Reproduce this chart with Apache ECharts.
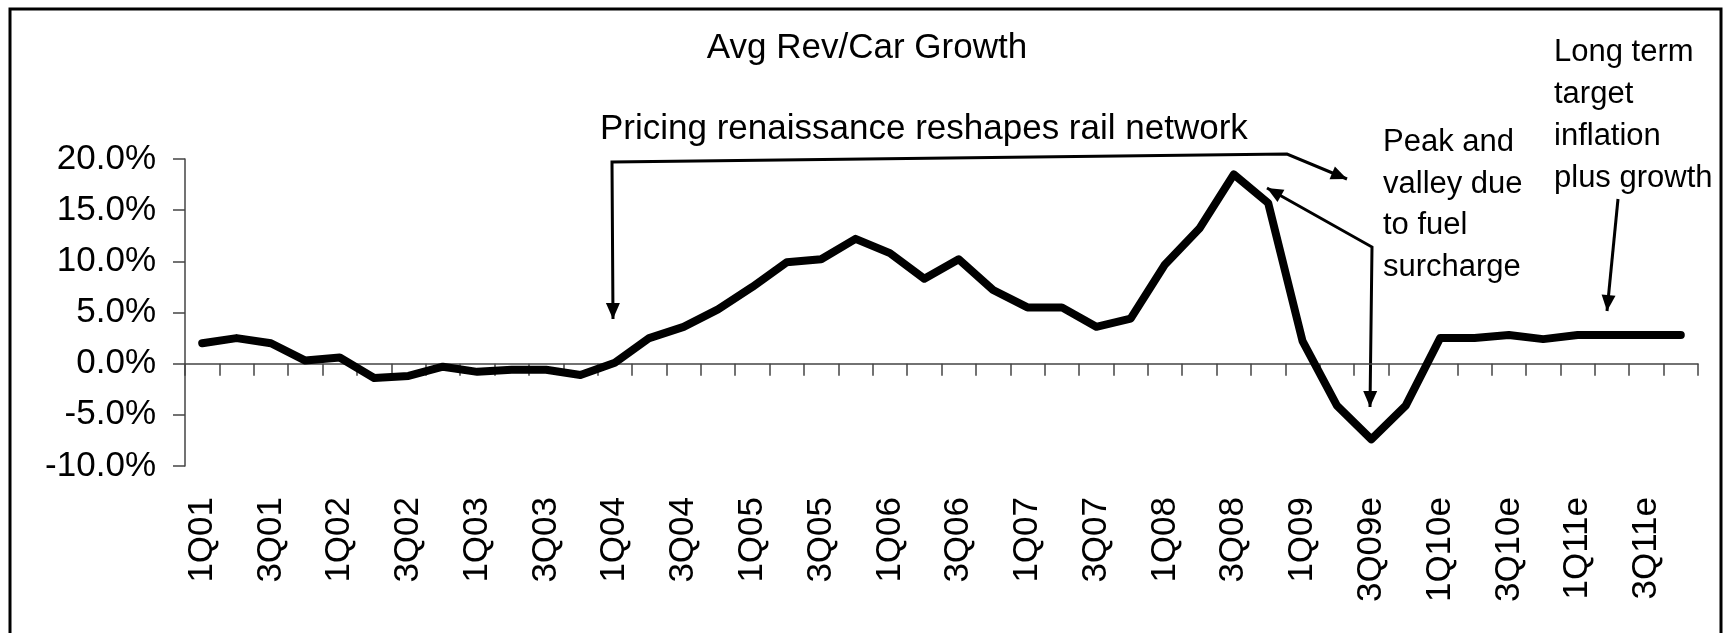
<!DOCTYPE html>
<html>
<head>
<meta charset="utf-8">
<script src="https://cdn.jsdelivr.net/npm/echarts@6/dist/echarts.min.js"></script>
<style>
html, body { margin: 0; padding: 0; background: #fff; }
#chart { width: 1726px; height: 633px; }
</style>
</head>
<body>
<div id="chart"></div>
<script>
const quarters = [
    '1Q01', '2Q01', '3Q01', '4Q01', '1Q02', '2Q02', '3Q02', '4Q02',
    '1Q03', '2Q03', '3Q03', '4Q03', '1Q04', '2Q04', '3Q04', '4Q04',
    '1Q05', '2Q05', '3Q05', '4Q05', '1Q06', '2Q06', '3Q06', '4Q06',
    '1Q07', '2Q07', '3Q07', '4Q07', '1Q08', '2Q08', '3Q08', '4Q08',
    '1Q09', '2Q09', '3Q09e', '4Q09e', '1Q10e', '2Q10e', '3Q10e', '4Q10e',
    '1Q11e', '2Q11e', '3Q11e', '4Q11e'
];
// avg revenue per car, yoy growth in %
const revPerCarGrowth = [
    2.0, 2.5, 2.0, 0.3, 0.6, -1.4, -1.2, -0.3,
    -0.8, -0.6, -0.6, -1.1, 0.1, 2.5, 3.6, 5.3,
    7.5, 9.9, 10.2, 12.2, 10.8, 8.3, 10.2, 7.2,
    5.5, 5.5, 3.6, 4.4, 9.7, 13.2, 18.5, 15.7,
    2.2, -4.1, -7.4, -4.1, 2.5, 2.5, 2.8, 2.4,
    2.8, 2.8, 2.8, 2.8
];
const yMin = -10;
const yMax = 20;
const yStep = 5;

const FONT = '"Liberation Sans", Arial, sans-serif';
const AXIS_COLOR = '#444';

// small filled triangle at the tip of a segment
function arrowHead(tip, from) {
    const dx = tip[0] - from[0], dy = tip[1] - from[1];
    const len = Math.hypot(dx, dy);
    const ux = dx / len, uy = dy / len;
    const L = 16, W = 7;
    const bx = tip[0] - ux * L, by = tip[1] - uy * L;
    return {
        type: 'polygon',
        shape: { points: [tip, [bx - uy * W, by + ux * W], [bx + uy * W, by - ux * W]] },
        style: { fill: '#000' }
    };
}

function arrow(points, headStart, headEnd) {
    const items = [{
        type: 'polyline',
        shape: { points: points },
        style: { stroke: '#000', lineWidth: 3, fill: null }
    }];
    if (headStart) items.push(arrowHead(points[0], points[1]));
    if (headEnd) items.push(arrowHead(points[points.length - 1], points[points.length - 2]));
    return items;
}

function note(text, x, y, size, lineHeight) {
    return {
        type: 'text',
        x: x,
        y: y,
        style: {
            text: text,
            font: size + 'px ' + FONT,
            fill: '#000',
            lineHeight: lineHeight,
            textVerticalAlign: 'top'
        }
    };
}

const chart = echarts.init(document.getElementById('chart'));

const option = {
    animation: false,
    backgroundColor: '#fff',
    title: {
        text: 'Avg Rev/Car Growth',
        left: 867,
        top: 31,
        textAlign: 'center',
        padding: 0,
        textStyle: { fontFamily: FONT, fontSize: 35, fontWeight: 'normal', color: '#000' }
    },
    grid: { left: 185, right: 28, top: 159, bottom: 167 },
    xAxis: [
        {
            type: 'category',
            data: quarters,
            boundaryGap: true,
            axisLine: { onZero: true, lineStyle: { color: AXIS_COLOR, width: 1.5 } },
            axisTick: { show: true, interval: 0, length: 12, lineStyle: { color: AXIS_COLOR, width: 1.5 } },
            axisLabel: { show: false },
            splitLine: { show: false }
        },
        {
            type: 'category',
            data: quarters,
            position: 'bottom',
            boundaryGap: true,
            axisLine: { show: false, onZero: false },
            axisTick: { show: false },
            axisLabel: {
                interval: 1,
                rotate: 90,
                margin: 31,
                fontFamily: FONT,
                fontSize: 35,
                color: '#000'
            },
            splitLine: { show: false }
        }
    ],
    yAxis: {
        type: 'value',
        min: yMin,
        max: yMax,
        interval: yStep,
        axisLine: { show: true, lineStyle: { color: AXIS_COLOR, width: 1.5 } },
        axisTick: { show: true, length: 12, lineStyle: { color: AXIS_COLOR, width: 1.5 } },
        axisLabel: {
            margin: 29,
            fontFamily: FONT,
            fontSize: 35,
            color: '#000',
            formatter: (v) => v.toFixed(1) + '%'
        },
        splitLine: { show: false }
    },
    series: [{
        type: 'line',
        name: 'Avg Rev/Car Growth',
        data: revPerCarGrowth,
        xAxisIndex: 0,
        showSymbol: false,
        lineStyle: { color: '#000', width: 8, cap: 'round', join: 'round' }
    }],
    graphic: [
        {
            type: 'rect',
            shape: { x: 10, y: 9, width: 1711, height: 640 },
            style: { fill: null, stroke: '#000', lineWidth: 3 }
        },
        note('Pricing renaissance reshapes rail network', 600, 108, 35, 42),
        note('Peak and\nvalley due\nto fuel\nsurcharge', 1383, 122, 31, 41.5),
        note('Long term\ntarget\ninflation\nplus growth', 1554, 31, 31, 42),
        ...arrow([[613, 319], [612, 162], [1287, 154], [1347, 179]], true, true),
        ...arrow([[1267, 188], [1372, 247], [1370, 407]], true, true),
        ...arrow([[1618, 199], [1607, 311]], false, true)
    ]
};

chart.setOption(option);
</script>
</body>
</html>
